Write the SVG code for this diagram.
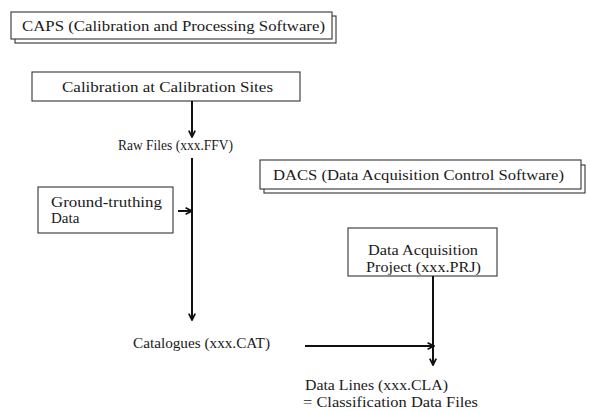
<svg xmlns="http://www.w3.org/2000/svg" width="590" height="412" viewBox="0 0 590 412">
<style>
.box{fill:#fff;stroke:#333;stroke-width:1.1}
.t{font-family:"Liberation Serif","Times New Roman","DejaVu Serif",serif;font-size:15px;fill:#1a1a1a}
.c{fill:none;stroke:#111;stroke-width:2}
</style>
<defs>
<marker id="ah" viewBox="0 0 10 10" refX="9" refY="5" markerWidth="4" markerHeight="4" orient="auto" markerUnits="strokeWidth">
<path d="M1,1 L9,5 L1,9" fill="none" stroke="#111" stroke-width="2.2"/>
</marker>
</defs>
<rect width="590" height="412" fill="#fff"/>
<g id="caps">
<rect class="box" x="15" y="16" width="321" height="27"/>
<rect class="box" x="11" y="12" width="321" height="27"/>
<text class="t" x="22" y="31" textLength="303" lengthAdjust="spacingAndGlyphs">CAPS (Calibration and Processing Software)</text>
</g>
<g id="calibration">
<rect class="box" x="32" y="72" width="268" height="29"/>
<text class="t" x="62" y="92" textLength="211" lengthAdjust="spacingAndGlyphs">Calibration at Calibration Sites</text>
</g>
<g id="rawfiles">
<text class="t" x="118" y="150" textLength="115" lengthAdjust="spacingAndGlyphs">Raw Files (xxx.FFV)</text>
</g>
<g id="groundtruth">
<rect class="box" x="38" y="187" width="135" height="46"/>
<text class="t" x="51" y="207" textLength="111" lengthAdjust="spacingAndGlyphs">Ground-truthing</text>
<text class="t" x="51" y="223">Data</text>
</g>
<g id="catalogues">
<text class="t" x="133" y="348" textLength="137" lengthAdjust="spacingAndGlyphs">Catalogues (xxx.CAT)</text>
</g>
<g id="dacs">
<rect class="box" x="264" y="165" width="321" height="28"/>
<rect class="box" x="260" y="160" width="321" height="29"/>
<text class="t" x="273" y="180" textLength="291" lengthAdjust="spacingAndGlyphs">DACS (Data Acquisition Control Software)</text>
</g>
<g id="dap">
<rect class="box" x="348" y="228" width="149" height="48"/>
<text class="t" x="368" y="255" textLength="110" lengthAdjust="spacingAndGlyphs">Data Acquisition</text>
<text class="t" x="366" y="272" textLength="115" lengthAdjust="spacingAndGlyphs">Project (xxx.PRJ)</text>
</g>
<g id="datalines">
<text class="t" x="305" y="390" textLength="143" lengthAdjust="spacingAndGlyphs">Data Lines (xxx.CLA)</text>
<text class="t" x="303" y="407" textLength="175" lengthAdjust="spacingAndGlyphs">= Classification Data Files</text>
</g>
<g id="connectors">
<line class="c" x1="192" y1="101" x2="192" y2="137" marker-end="url(#ah)"/>
<line class="c" x1="192" y1="158" x2="192" y2="320" marker-end="url(#ah)"/>
<line class="c" x1="178" y1="211" x2="192" y2="211" marker-end="url(#ah)"/>
<line class="c" x1="305" y1="346" x2="434" y2="346" marker-end="url(#ah)"/>
<line class="c" x1="433" y1="276" x2="433" y2="365" marker-end="url(#ah)"/>
</g>
</svg>
